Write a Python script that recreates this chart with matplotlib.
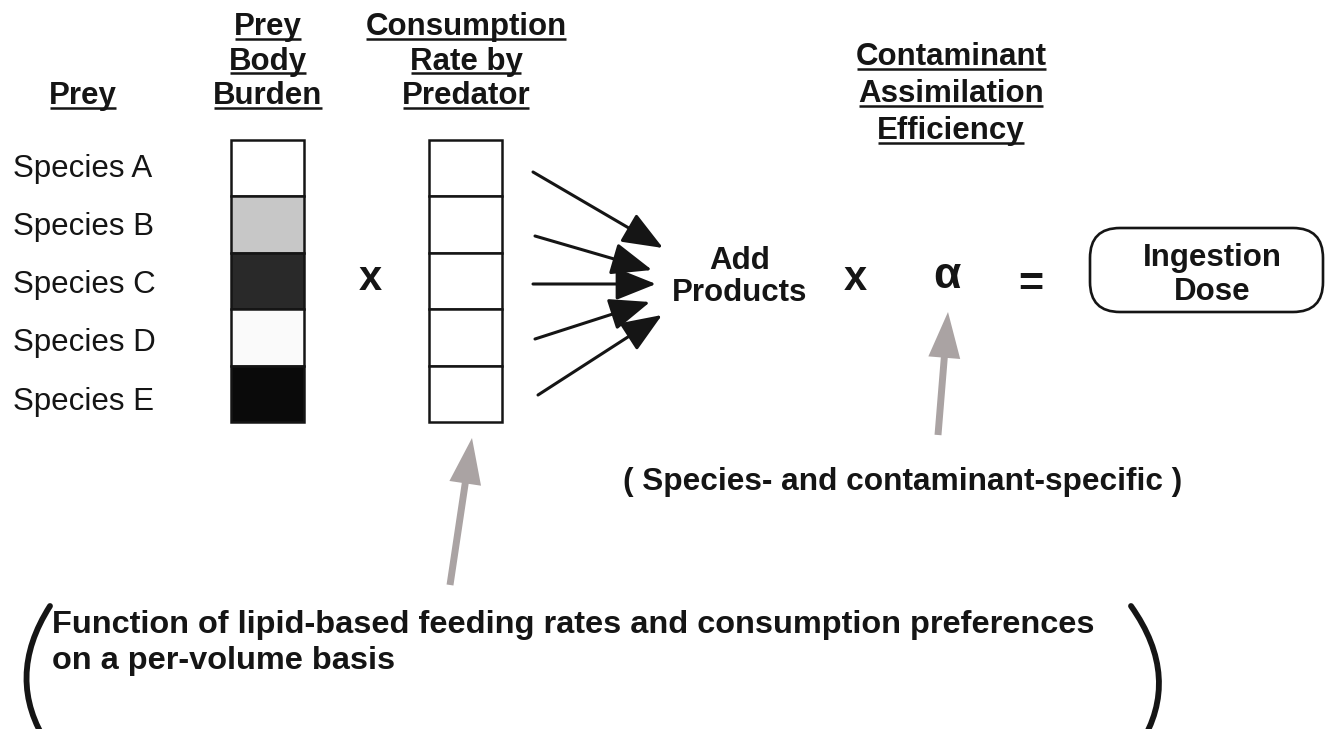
import matplotlib
matplotlib.use("Agg")
import matplotlib.pyplot as plt
from matplotlib.patches import FancyArrowPatch, FancyBboxPatch, PathPatch
from matplotlib.path import Path

# ---------------- data ----------------
species = ["Species A", "Species B", "Species C", "Species D", "Species E"]
burden_intensity = [0.00, 0.22, 0.84, 0.02, 0.96]   # relative prey body burden (gray shade)
consumption_rate = [0, 0, 0, 0, 0]                  # blank cells in the diagram
header_prey = ["Prey"]
header_burden = ["Prey", "Body", "Burden"]
header_consumption = ["Consumption", "Rate by", "Predator"]
header_assim = ["Contaminant", "Assimilation", "Efficiency"]
middle_words = ["Add", "Products"]
result_words = ["Ingestion", "Dose"]
alpha_note = "( Species- and contaminant-specific )"
bottom_note = ["Function of lipid-based feeding rates and consumption preferences",
               "on a per-volume basis"]

# ---------------- figure ----------------
W, H = 1330, 729
fig = plt.figure(figsize=(W / 100, H / 100), dpi=100)
ax = fig.add_axes([0, 0, 1, 1])
ax.set_xlim(0, W)
ax.set_ylim(H, 0)
ax.axis("off")

FONT = "Liberation Sans"
FS = 22.5
INK = "#151515"
GRAY_ARROW = "#aaa3a3"

# headers (underlined)
header_texts = []
def header(lines, cx, base0, pitch):
    for i, s in enumerate(lines):
        t = ax.text(cx, base0 + i * pitch, s, ha="center", va="baseline",
                    fontsize=FS, fontweight="bold", family=FONT, color=INK)
        header_texts.append((t, base0 + i * pitch))

header(header_prey, 83, 104, 35)
header(header_burden, 268, 35, 34.5)
header(header_consumption, 466, 35, 34.5)
header(header_assim, 951, 65, 37)

# species labels
for i, s in enumerate(species):
    ax.text(13, 176.5 + i * 58.3, s, ha="left", va="baseline", fontsize=FS,
            family=FONT, color=INK)

# columns of cells
top, cell_h = 140, 56.4
n = len(species)
bottoms = [top + i * cell_h for i in range(n)]
burden_colors = [str(round(1 - v, 3)) for v in burden_intensity]
ax.bar([267.5] * n, [cell_h] * n, bottom=bottoms, width=73,
       color=burden_colors, edgecolor=INK, linewidth=1.8, align="center")
ax.bar([465.5] * n, [cell_h + r for r in consumption_rate], bottom=bottoms, width=73,
       color="white", edgecolor=INK, linewidth=1.8, align="center")

# operators
ax.text(370, 290, "x", ha="center", va="baseline", fontsize=30, fontweight="bold",
        family=FONT, color=INK)
ax.text(855, 290, "x", ha="center", va="baseline", fontsize=30, fontweight="bold",
        family=FONT, color=INK)
ax.text(947, 288, "α", ha="center", va="baseline", fontsize=32, fontweight="bold",
        family=FONT, color=INK)
ax.text(1031, 296, "=", ha="center", va="baseline", fontsize=31, fontweight="bold",
        family=FONT, color=INK)

# converging arrows
starts = [(533, 172), (535, 236), (533, 284), (535, 339), (538, 395)]
tips = [(663, 248), (652, 270), (656, 284), (650, 302), (662, 315)]
for (x0, y0), (x1, y1) in zip(starts, tips):
    ax.add_patch(FancyArrowPatch((x0, y0), (x1, y1),
                                 arrowstyle="-|>,head_length=1.25,head_width=0.5",
                                 mutation_scale=20, lw=2.2, color=INK,
                                 shrinkA=0, shrinkB=0))

# Add products
ax.text(740, 269, middle_words[0], ha="center", va="baseline", fontsize=FS,
        fontweight="bold", family=FONT, color=INK)
ax.text(740, 301, middle_words[1], ha="center", va="baseline", fontsize=FS,
        fontweight="bold", family=FONT, color=INK)

# Ingestion dose box
ax.add_patch(FancyBboxPatch((1090, 228), 233, 84,
                            boxstyle="round,pad=0,rounding_size=30",
                            fc="white", ec=INK, lw=1.9))
ax.text(1212, 266, result_words[0], ha="center", va="baseline", fontsize=FS,
        fontweight="bold", family=FONT, color=INK)
ax.text(1212, 300, result_words[1], ha="center", va="baseline", fontsize=FS,
        fontweight="bold", family=FONT, color=INK)

# gray arrows
for (x0, y0), (x1, y1) in [((938, 435), (948, 312)), ((450, 585), (472, 438))]:
    ax.add_patch(FancyArrowPatch((x0, y0), (x1, y1),
                                 arrowstyle="simple,head_length=3.3,head_width=2.3,tail_width=0.5",
                                 mutation_scale=10, color=GRAY_ARROW, lw=0,
                                 shrinkA=0, shrinkB=0))

# alpha note
ax.text(623, 490, alpha_note, ha="left", va="baseline", fontsize=FS + 0.3,
        fontweight="bold", family=FONT, color=INK)

# bottom note
for i, s in enumerate(bottom_note):
    ax.text(52, 633 + i * 36, s, ha="left", va="baseline", fontsize=23.4,
            fontweight="bold", family=FONT, color=INK)

# big parentheses
for p0, p1, p2 in [((50, 606), (4, 678), (48, 745)), ((1131, 606), (1182, 678), (1140, 745))]:
    path = Path([p0, p1, p2], [Path.MOVETO, Path.CURVE3, Path.CURVE3])
    ax.add_patch(PathPatch(path, fc="none", ec=INK, lw=4.2, capstyle="round"))

# underlines
fig.canvas.draw()
r = fig.canvas.get_renderer()
inv = ax.transData.inverted()
for t, base in header_texts:
    bb = t.get_window_extent(r)
    (xa, _), (xb, _) = inv.transform([(bb.x0, bb.y0), (bb.x1, bb.y0)])
    ax.plot([xa + 1, xb - 1], [base + 3.5, base + 3.5], color=INK, lw=1.8,
            solid_capstyle="butt")

fig.savefig("out.png", dpi=100, facecolor="white")
